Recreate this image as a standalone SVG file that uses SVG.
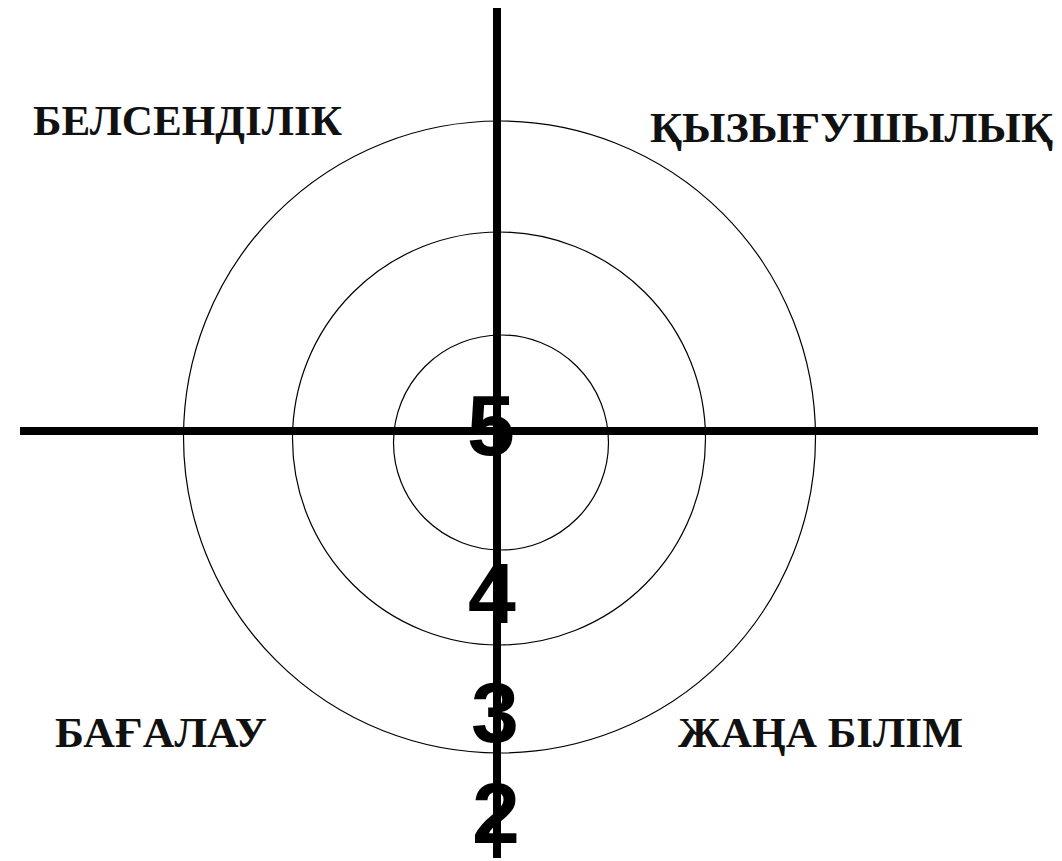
<svg xmlns="http://www.w3.org/2000/svg" width="1062" height="861" viewBox="0 0 1062 861">
<style>
.ring{fill:none;stroke:#000;stroke-width:1.2}
.axis{stroke:#000;stroke-width:8;stroke-linecap:butt}
.lbl{font-family:"Liberation Serif","Times New Roman",serif;font-weight:bold;font-size:42px;fill:#111}
.num{font-family:"Liberation Sans",Arial,sans-serif;font-weight:bold;font-size:86px;fill:#000;text-anchor:middle}
</style>
<rect width="1062" height="861" fill="#fff"/>
<g id="rings">
<circle class="ring" cx="499.5" cy="437" r="316"/>
<circle class="ring" cx="499" cy="438.5" r="206.5"/>
<circle class="ring" cx="501" cy="442.5" r="107.5"/>
</g>
<g id="connectors">
<line class="axis" x1="20" y1="431" x2="1038" y2="431"/>
<line class="axis" x1="497" y1="8" x2="497" y2="858"/>
</g>
<g id="num5"><text class="num" x="491" y="455">5</text></g>
<g id="num4"><text class="num" x="492" y="623">4</text></g>
<g id="num3"><text class="num" x="495" y="742">3</text></g>
<g id="num2"><text class="num" x="496" y="843">2</text></g>
<g id="label-belsendilik"><text class="lbl" x="33" y="135" textLength="309" lengthAdjust="spacingAndGlyphs">БЕЛСЕНДІЛІК</text></g>
<g id="label-kyzygushylyk"><text class="lbl" x="650" y="142" textLength="403" lengthAdjust="spacingAndGlyphs">ҚЫЗЫҒУШЫЛЫҚ</text></g>
<g id="label-bagalau"><text class="lbl" x="55" y="747" textLength="212" lengthAdjust="spacingAndGlyphs">БАҒАЛАУ</text></g>
<g id="label-zhana-bilim"><text class="lbl" x="678" y="747" textLength="285" lengthAdjust="spacingAndGlyphs">ЖАҢА БІЛІМ</text></g>
</svg>
